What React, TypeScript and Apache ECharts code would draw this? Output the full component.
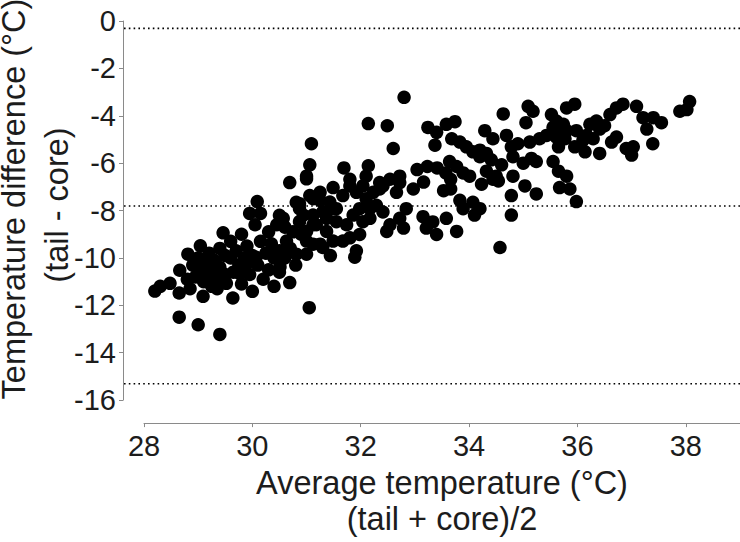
import React, { useEffect, useRef } from "react";
import * as echarts from "echarts";

// Average temperature (°C), (tail + core)/2
const avgTemp: number[] = [
  28.2, 28.3, 28.48, 28.65, 28.66, 28.65, 29.0, 29.4, 29.09, 28.81, 29.04, 29.46, 29.64, 30.0, 30.09, 29.95, 30.15, 30.69, 31.0, 31.49,
  31.05, 31.44, 30.69, 28.8, 28.9, 29.0, 29.0, 29.1, 29.1, 29.2, 29.2, 29.3, 29.3, 29.35, 29.4, 29.4, 29.5, 29.5, 28.95, 28.85,
  29.25, 29.6, 29.6, 29.65, 29.7, 29.75, 29.8, 29.8, 29.85, 29.9, 29.95, 30.0, 30.05, 30.1, 30.15, 30.2, 30.25, 30.3, 30.3, 30.35,
  30.4, 30.4, 30.45, 30.5, 30.5, 30.5, 30.57, 30.81, 30.87, 31.12, 31.25, 30.87, 31.12, 31.37, 31.49, 31.0, 31.25, 31.49, 30.81, 30.63,
  30.38, 30.51, 30.07, 29.89, 29.77, 29.52, 29.34, 29.15, 29.03, 31.09, 31.06, 31.0, 30.87, 32.14, 32.49, 32.8, 32.6, 32.14, 31.69, 31.92,
  31.89, 32.41, 32.72, 32.97, 33.04, 33.23, 33.41, 33.57, 33.66, 33.66, 33.53, 33.16, 32.72, 33.15, 33.21, 33.4, 33.58, 33.77, 33.33, 33.83,
  33.89, 34.07, 34.1, 33.24, 33.4, 33.58, 33.74, 33.37, 33.68, 33.83, 33.95, 34.07, 34.2, 34.29, 34.44, 34.41, 34.23, 34.5, 34.32, 33.64,
  33.77, 33.89, 34.01, 34.57, 34.63, 35.09, 35.18, 35.05, 34.69, 34.2, 34.32, 34.78, 34.9, 34.81, 35.12, 35.3, 35.0, 35.15, 35.24, 34.6,
  34.44, 34.54, 34.81, 34.78, 35.03, 35.24, 34.78, 34.2, 35.52, 35.61, 35.8, 35.95, 35.55, 35.68, 35.74, 35.8, 35.43, 35.61, 35.77, 35.65,
  35.55, 35.65, 35.8, 35.86, 35.67, 35.98, 35.98, 36.17, 36.1, 36.23, 36.35, 36.41, 36.5, 36.6, 36.72, 36.84, 35.95, 36.14, 36.29, 36.41,
  36.63, 36.72, 36.9, 37.03, 37.0, 37.09, 37.21, 37.28, 37.4, 37.55, 37.39, 37.89, 38.07, 38.02,
  31.06, 31.25, 31.43, 31.12, 31.3, 31.55, 31.0, 31.18, 31.37, 31.55, 31.67, 31.8, 31.92, 32.04, 32.1, 32.23, 32.35, 31.98, 32.17, 32.29,
  31.74, 31.86, 32.04, 31.8, 31.98, 32.17, 32.41, 32.54, 32.48, 32.72, 32.84, 32.66, 32.79, 31.67, 31.12, 31.3, 31.0,
  30.6, 30.7, 30.8, 30.9, 30.6, 30.75, 31.8, 32.1, 32.35, 32.54, 30.94
];

// Temperature difference (°C), tail - core
const tempDiff: number[] = [
  -11.4, -11.2, -11.07, -11.48, -10.52, -12.5, -12.82, -13.23, -11.62, -9.84, -9.49, -8.94, -11.69, -11.41, -7.62, -8.12, -8.12, -6.82, -6.66, -7.03,
  -12.1, -9.9, -11.04, -10.9, -10.3, -10.0, -10.6, -10.2, -11.0, -9.8, -10.5, -10.1, -10.8, -11.3, -9.6, -10.4, -9.9, -10.7, -10.8, -11.3,
  -11.2, -9.3, -10.0, -10.6, -9.7, -10.3, -9.0, -11.1, -10.0, -9.5, -10.7, -9.9, -8.6, -10.3, -9.3, -10.9, -9.8, -8.9, -10.5, -9.4,
  -11.2, -10.0, -8.6, -9.7, -10.6, -8.2, -8.33, -7.65, -7.92, -7.5, -7.57, -8.47, -8.6, -8.33, -7.92, -9.29, -9.42, -9.29, -9.84, -9.29,
  -9.84, -10.38, -9.97, -10.25, -10.66, -11.07, -10.93, -10.79, -10.66, -5.18, -6.07, -6.55, -7.71, -4.33, -4.42, -3.22, -5.38, -6.11, -6.2, -9.7,
  -9.97, -6.96, -6.82, -7.09, -6.27, -6.14, -6.2, -6.41, -6.68, -7.09, -7.16, -6.8, -6.55, -8.26, -8.74, -9.01, -8.33, -8.88, -8.48, -7.57,
  -7.92, -7.65, -8.19, -4.49, -4.7, -4.36, -4.25, -5.24, -4.97, -5.11, -5.31, -5.52, -5.73, -4.63, -4.97, -5.86, -6.89, -6.55, -6.34, -5.93,
  -6.14, -6.41, -6.55, -9.56, -3.92, -3.6, -3.81, -4.29, -4.83, -5.45, -5.59, -5.31, -5.18, -5.73, -5.11, -4.97, -6.0, -5.8, -5.93, -6.07,
  -6.68, -6.75, -6.55, -7.37, -6.96, -7.3, -8.19, -7.92, -3.95, -4.22, -3.67, -3.51, -4.49, -4.7, -4.36, -4.63, -4.83, -4.9, -4.97, -5.31,
  -5.93, -6.34, -6.55, -7.09, -7.03, -7.62, -4.63, -4.83, -5.04, -4.36, -4.22, -4.56, -4.42, -3.95, -3.67, -3.51, -5.31, -5.52, -4.97, -5.59,
  -5.11, -4.9, -5.38, -5.31, -5.66, -3.6, -4.08, -4.56, -4.08, -4.29, -5.18, -3.81, -3.4, -3.74,
  -7.37, -7.23, -7.64, -8.19, -8.06, -7.92, -8.88, -8.6, -8.88, -8.47, -7.37, -6.96, -7.23, -6.96, -7.5, -7.23, -7.09, -7.92, -7.92, -7.78,
  -8.6, -8.19, -8.47, -9.15, -9.01, -8.33, -8.06, -8.6, -8.88, -8.33, -7.92, -7.23, -8.74, -9.29, -9.42, -9.56, -9.84,
  -8.7, -9.6, -10.3, -9.0, -10.0, -8.9, -6.68, -6.55, -6.82, -6.68, -8.19
];

// Bland-Altman reference lines: upper limit, mean bias, lower limit
const refLines: number[] = [-0.31, -7.81, -15.31];

const xTicks = { min: 28, max: 39, interval: 2 };
const yTicks = { min: -16, max: 0, interval: 2 };

const FONT = '"Liberation Sans", Arial, Helvetica, sans-serif';
const Y_AXIS_OFFSET = 21;

export default function App() {
  const ref = useRef<HTMLDivElement>(null);

  useEffect(() => {
    document.body.style.margin = "0";
    document.body.style.overflow = "hidden";
    if (!ref.current) return;
    const chart = echarts.init(ref.current, undefined, { renderer: "svg" });
    const points = avgTemp.map((x, i) => [x, tempDiff[i]]);
    const axisColor = "#8a8a8a";
    const textColor = "#1c1c1c";

    const titles = [
      {
        id: "ytitle1",
        type: "text",
        x: 14,
        y: 199,
        rotation: Math.PI / 2,
        style: {
          text: "Temperature difference (°C)",
          font: `32.5px ${FONT}`,
          fill: textColor,
          textAlign: "center",
          textVerticalAlign: "middle",
        },
      },
      {
        id: "ytitle2",
        type: "text",
        x: 57,
        y: 205,
        rotation: Math.PI / 2,
        style: {
          text: "(tail - core)",
          font: `32.5px ${FONT}`,
          fill: textColor,
          textAlign: "center",
          textVerticalAlign: "middle",
        },
      },
    ];

    chart.setOption({
      animation: false,
      backgroundColor: "#ffffff",
      grid: { left: 144, right: 0, top: 21, bottom: 132, containLabel: false },
      xAxis: {
        type: "value",
        min: xTicks.min,
        max: xTicks.max,
        interval: xTicks.interval,
        offset: 23,
        axisLine: { show: true, onZero: false, lineStyle: { color: axisColor, width: 1 } },
        axisTick: { show: true, length: 4, lineStyle: { color: axisColor } },
        splitLine: { show: false },
        axisLabel: {
          color: textColor,
          fontSize: 29,
          fontFamily: FONT,
          margin: 8,
          showMaxLabel: false,
        },
        name: "Average temperature (°C)\n(tail + core)/2",
        nameLocation: "middle",
        nameGap: 41,
        nameTextStyle: { color: textColor, fontSize: 32.5, fontFamily: FONT, lineHeight: 36 },
      },
      yAxis: {
        type: "value",
        min: yTicks.min,
        max: yTicks.max,
        interval: yTicks.interval,
        offset: Y_AXIS_OFFSET,
        axisLine: { show: true, onZero: false, lineStyle: { color: axisColor, width: 1 } },
        axisTick: { show: true, length: 4, lineStyle: { color: axisColor } },
        splitLine: { show: false },
        axisLabel: { color: textColor, fontSize: 29, fontFamily: FONT, margin: 7 },
      },
      graphic: titles,
      series: [
        {
          type: "scatter",
          data: points,
          symbol: "circle",
          symbolSize: 13.5,
          itemStyle: { color: "#000000", opacity: 1 },
          clip: false,
          silent: true,
          z: 3,
        },
      ],
    });

    // Reference (dotted) lines: from the y-axis line to the right end of the x range,
    // positioned through the chart's own scales.
    const lines = refLines.map((v, i) => {
      const left = chart.convertToPixel({ gridIndex: 0 }, [xTicks.min, v]) as number[];
      const right = chart.convertToPixel({ gridIndex: 0 }, [xTicks.max, v]) as number[];
      return {
        id: "ref" + i,
        type: "line",
        z: 1,
        silent: true,
        shape: { x1: left[0] - Y_AXIS_OFFSET + 1, y1: left[1], x2: right[0], y2: right[1] },
        style: { stroke: "#000000", lineWidth: 1.6, lineDash: [1.6, 3.2] },
      };
    });
    chart.setOption({ graphic: [...titles, ...lines] });

    return () => chart.dispose();
  }, []);

  return <div ref={ref} style={{ width: 740, height: 542 }} />;
}
